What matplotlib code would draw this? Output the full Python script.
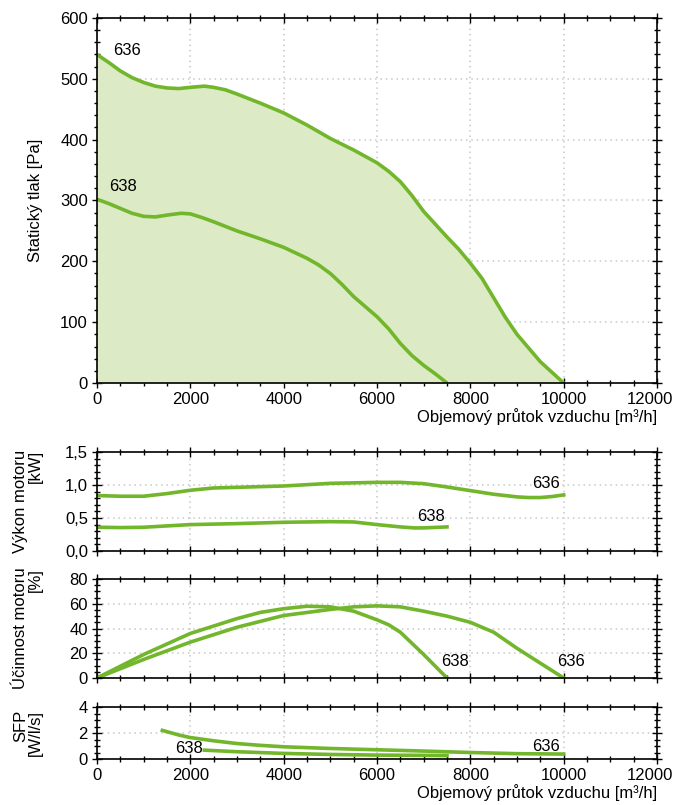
import matplotlib
matplotlib.use("Agg")
import matplotlib.pyplot as plt
import matplotlib.transforms as mtransforms
from matplotlib.ticker import MultipleLocator, FuncFormatter

GREEN = "#72b62c"
FILL = "#dcebc5"

# static pressure curves [Pa] vs air flow [m3/h]
flow_p636 = [0, 250, 500, 750, 1000, 1250, 1500, 1750, 2000, 2300, 2500, 2750,
             3000, 3500, 4000, 4500, 5000, 5500, 6000, 6250, 6500, 6750, 7000,
             7500, 7750, 8000, 8250, 8500, 8750, 9000, 9500, 10000]
press_636 = [540, 527, 513, 502, 494, 488, 485, 484, 486, 488, 486, 482,
             475, 460, 444, 424, 402, 383, 362, 348, 331, 308, 282,
             240, 220, 197, 172, 140, 108, 80, 35, 0]
flow_p638 = [0, 250, 500, 750, 1000, 1250, 1500, 1800, 2000, 2250, 2500, 3000,
             3500, 4000, 4500, 4750, 5000, 5250, 5500, 6000, 6250, 6500, 6750,
             7000, 7250, 7500]
press_638 = [302, 295, 287, 279, 274, 273, 276, 279, 278, 272, 265, 250,
             237, 223, 205, 194, 180, 162, 142, 109, 89, 65, 45,
             29, 15, 0]

# motor power [kW]
flow_w636 = [0, 500, 1000, 1500, 2000, 2500, 3000, 4000, 5000, 6000, 6500, 7000,
             7500, 8000, 8500, 9000, 9250, 9500, 9750, 10000]
power_636 = [0.84, 0.83, 0.83, 0.87, 0.92, 0.955, 0.965, 0.985, 1.025, 1.04, 1.04,
             1.02, 0.97, 0.915, 0.86, 0.82, 0.81, 0.81, 0.825, 0.85]
flow_w638 = [0, 500, 1000, 1500, 2000, 3000, 4000, 5000, 5500, 6000, 6500, 6800,
             7000, 7500]
power_638 = [0.36, 0.355, 0.36, 0.38, 0.40, 0.415, 0.435, 0.445, 0.44, 0.40,
             0.365, 0.35, 0.35, 0.365]

# motor efficiency [%]
flow_e636 = [0, 1000, 2000, 3000, 4000, 5000, 5500, 6000, 6500, 7000, 7500, 8000,
             8500, 9000, 9500, 10000]
eff_636 = [0, 15, 29, 41, 50.5, 55.4, 57.5, 58.3, 57.5, 54, 50, 45, 37, 24, 12, 0]
flow_e638 = [0, 1000, 2000, 3000, 3500, 4000, 4500, 5000, 5500, 6000, 6250, 6500,
             6750, 7000, 7250, 7500]
eff_638 = [0, 19, 36, 48, 53, 56, 58, 57.5, 54, 47, 43, 37, 28, 19, 9.5, 0]

# SFP [W/l/s]
flow_s636 = [1400, 1750, 2000, 2500, 3000, 3500, 4000, 5000, 6000, 7000, 8000,
             9000, 10000]
sfp_636 = [2.2, 1.85, 1.65, 1.4, 1.19, 1.05, 0.94, 0.81, 0.71, 0.61, 0.50,
           0.41, 0.38]
flow_s638 = [2300, 3000, 4000, 5000, 6000, 7000, 7500]
sfp_638 = [0.68, 0.56, 0.43, 0.35, 0.30, 0.28, 0.26]

plt.rcParams["font.family"] = ["Liberation Sans", "DejaVu Sans"]
plt.rcParams["font.size"] = 12

fig = plt.figure(figsize=(6.76, 8.05), dpi=100)
L, W = 97 / 676, 560 / 676


def box(top, bottom):
    return [L, 1 - bottom / 805, W, (bottom - top) / 805]


ax1 = fig.add_axes(box(18, 383))
ax2 = fig.add_axes(box(452, 551))
ax3 = fig.add_axes(box(579, 678))
ax4 = fig.add_axes(box(707, 759))


def style(ax, ymax, ymaj, ymin, xlabels):
    ax.set_xlim(0, 12000)
    ax.set_ylim(0, ymax)
    ax.xaxis.set_major_locator(MultipleLocator(2000))
    ax.xaxis.set_minor_locator(MultipleLocator(500))
    ax.yaxis.set_major_locator(MultipleLocator(ymaj))
    ax.yaxis.set_minor_locator(MultipleLocator(ymin))
    ax.grid(True, which="major", color="#c8c8c8", linestyle=(0, (1, 2.5)), linewidth=1.1)
    ax.tick_params(which="both", top=True, right=True, direction="inout", width=1)
    ax.tick_params(which="major", length=7)
    ax.tick_params(which="minor", length=4)
    ax.tick_params(labelbottom=xlabels, pad=3)
    for s in ax.spines.values():
        s.set_linewidth(1.2)
    ax.set_axisbelow(True)


def ylabel(ax, text):
    ax.set_ylabel(text, linespacing=1.0, multialignment="right")
    ax.yaxis.set_label_coords(-0.096, 0.5)


def nudge_last_xlabel(ax):
    # keep "12000" inside the figure like in the original
    fig.canvas.draw()
    shift = mtransforms.ScaledTranslation(-7 / 100, 0, fig.dpi_scale_trans)
    for tick in ax.xaxis.get_major_ticks():
        if abs(tick.get_loc() - 12000) < 1:
            tick.label1.set_transform(tick.label1.get_transform() + shift)


lw = 2.6

style(ax1, 600, 100, 20, True)
ax1.fill_between(flow_p636, press_636, 0, color=FILL, lw=0)
ax1.plot(flow_p636, press_636, color=GREEN, lw=lw, solid_capstyle="butt")
ax1.plot(flow_p638, press_638, color=GREEN, lw=lw, solid_capstyle="butt")
ax1.text(350, 546, "636", ha="left", va="center")
ax1.text(260, 323, "638", ha="left", va="center")
ylabel(ax1, "Statický tlak [Pa]")
ax1.set_xlabel("Objemový průtok vzduchu [m³/h]", loc="right", labelpad=1)

style(ax2, 1.5, 0.5, 0.1, False)
ax2.plot(flow_w636, power_636, color=GREEN, lw=lw)
ax2.plot(flow_w638, power_638, color=GREEN, lw=lw)
ax2.yaxis.set_major_formatter(FuncFormatter(lambda v, p: f"{v:.1f}".replace(".", ",")))
ax2.text(9620, 1.02, "636", ha="center", va="center")
ax2.text(7160, 0.53, "638", ha="center", va="center")
ylabel(ax2, "Výkon motoru\n[kW]")

style(ax3, 80, 20, 5, False)
ax3.plot(flow_e636, eff_636, color=GREEN, lw=lw)
ax3.plot(flow_e638, eff_638, color=GREEN, lw=lw)
ax3.text(7680, 13.5, "638", ha="center", va="center")
ax3.text(10160, 13.5, "636", ha="center", va="center")
ylabel(ax3, "Účinnost motoru\n[%]")

style(ax4, 4, 2, 0.5, True)
ax4.plot(flow_s636, sfp_636, color=GREEN, lw=lw)
ax4.plot(flow_s638, sfp_638, color=GREEN, lw=lw)
ax4.text(1970, 0.82, "638", ha="center", va="center")
ax4.text(9620, 1.0, "636", ha="center", va="center")
ylabel(ax4, "SFP\n[W/l/s]")
ax4.set_xlabel("Objemový průtok vzduchu [m³/h]", loc="right", labelpad=1)

nudge_last_xlabel(ax1)
nudge_last_xlabel(ax4)
fig.savefig("out.png", dpi=100)
